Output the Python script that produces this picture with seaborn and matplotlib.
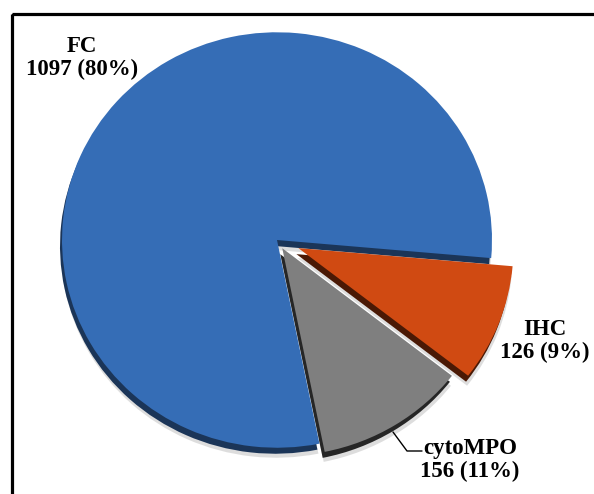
import matplotlib.pyplot as plt
from matplotlib.patches import Rectangle
import seaborn as sns

# Datos del gráfico
categorias = ["FC", "cytoMPO", "IHC"]
valores = [1097, 156, 126]
porcentajes = ["80%", "11%", "9%"]
colores = ["#356DB6", "#7F7F7F", "#D04A12"]
colores_oscuros = ["#1B3558", "#262626", "#4A1905"]
separacion = [0, 10, 23]

sns.set_theme(style="white")
plt.rcParams["font.family"] = ["Liberation Serif", "DejaVu Serif"]

W, H = 594, 494
k = 1.035  # ligera inclinación (pastel un poco achatado)

fig = plt.figure(figsize=(W / 100, H / 100), dpi=100)
ax = fig.add_axes([0, 0, 1, 1])


def Y(py):
    return -py * k


cx, cy, r = 277, 240, 215
inicio = -5

# sombra difusa
ax.pie(valores, radius=r, center=(cx - 1, Y(cy + 10)), startangle=inicio,
       explode=separacion, colors=["#a0a0a0"] * 3,
       wedgeprops=dict(alpha=0.35, linewidth=0), frame=True)
# canto (efecto 3D)
ax.pie(valores, radius=r, center=(cx - 2, Y(cy + 6)), startangle=inicio,
       explode=separacion, colors=colores_oscuros,
       wedgeprops=dict(linewidth=0), frame=True)
# cara superior
ax.pie(valores, radius=r, center=(cx, Y(cy)), startangle=inicio,
       explode=separacion, colors=colores,
       wedgeprops=dict(linewidth=0), frame=True)

# etiquetas
pos_etiquetas = {"FC": (82, 58), "IHC": (545, 341), "cytoMPO": (470, 460)}
for cat, val, pct in zip(categorias, valores, porcentajes):
    x, y = pos_etiquetas[cat]
    ax.text(x, Y(y), f"{cat}\n{val} ({pct})", ha="center", va="center",
            fontsize=16.5, fontweight="bold", linespacing=1.15, color="black")

# línea guía de cytoMPO
ax.plot([393, 407, 422], [Y(432), Y(451), Y(451)], color="black", lw=1)

# marco
ax.add_patch(Rectangle((11.5, Y(14.5)), 800, -800, fill=False,
                       lw=2.3, ec="black"))

ax.set_xlim(0, W)
ax.set_ylim(Y(H), 0)
ax.set_aspect("auto")
ax.axis("off")

fig.savefig("out.png", dpi=100)
